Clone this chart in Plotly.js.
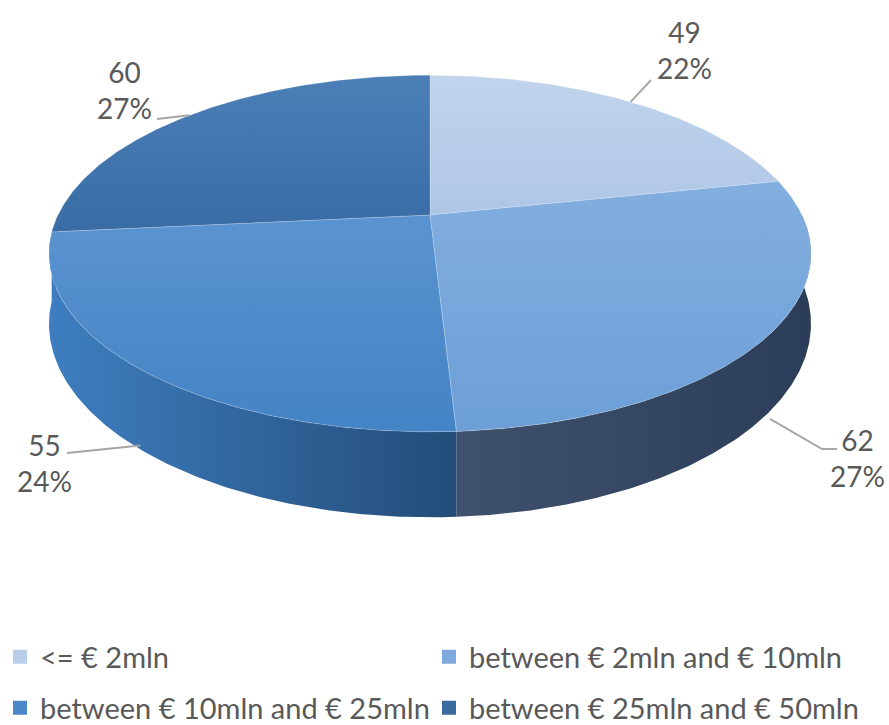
<!DOCTYPE html>
<html><head><meta charset="utf-8">
<script src="https://cdn.plot.ly/plotly-3.0.1.min.js"></script>
<style>html,body{margin:0;padding:0;background:#fff}#chart{width:889px;height:725px}</style>
</head><body><div id="chart"></div>
<script>
// ---- data ----
const categories = ['<= € 2mln', 'between € 2mln and € 10mln', 'between € 10mln and € 25mln', 'between € 25mln and € 50mln'];
const counts = [49, 62, 55, 60];
// ---- styles ----
const topColors = [['#aec6e6', '#c2d4ec'], ['#6c9fd7', '#82aedf'], ['#4483c5', '#5a93d0'], ['#396ba5', '#4c7fb6']];
const sideColors = [['#2f4361', '#2c3e58'], ['#3f516d', '#2b3d58'], ['#3e7ec0', '#234c78'], ['#3f80c1', '#3b78b8']];
const legendColors = ['#b9cfe9', '#7eaadd', '#4a86c8', '#3a69a0'];

// projection of the tilted disc (pixel space)
const G = {cx: 430, cy: 215, A: 372, B: 170, k: 0.216, H: 67};
function proj(th, drop) {
  const u = Math.sin(th), v = Math.cos(th), w = 1 + G.k * v;
  return [G.cx + G.A * u / w, G.cy - G.B * v / w + drop * G.H / w];
}
function arc(a, b, drop) {
  const n = Math.max(2, Math.ceil(Math.abs(b - a) / 0.01));
  const xs = [], ys = [];
  for (let i = 0; i <= n; i++) { const p = proj(a + (b - a) * i / n, drop); xs.push(p[0]); ys.push(p[1]); }
  return [xs, ys];
}

const total = counts.reduce((s, v) => s + v, 0);
const bounds = [];
let acc = 0;
counts.forEach(v => { const a = acc / total * 2 * Math.PI; acc += v; bounds.push([a, acc / total * 2 * Math.PI]); });

const traces = [];
// side walls (front half only)
bounds.forEach((b, i) => {
  const a0 = Math.max(b[0], Math.PI / 2), a1 = Math.min(b[1], 3 * Math.PI / 2);
  if (a0 >= a1) return;
  const t = arc(a0, a1, 0), bt = arc(a1, a0, 1);
  traces.push({
    x: t[0].concat(bt[0]), y: t[1].concat(bt[1]), mode: 'lines', fill: 'toself',
    line: {width: 0}, hoverinfo: 'skip', showlegend: false,
    fillgradient: {type: 'horizontal', colorscale: [[0, sideColors[i][0]], [1, sideColors[i][1]]]}
  });
});
// top faces
bounds.forEach((b, i) => {
  const t = arc(b[0], b[1], 0);
  traces.push({
    x: [G.cx].concat(t[0], [G.cx]), y: [G.cy].concat(t[1], [G.cy]), mode: 'lines', fill: 'toself',
    line: {width: 0.6, color: 'rgba(255,255,255,0.35)'}, hoverinfo: 'skip', showlegend: false,
    fillgradient: {type: 'vertical', colorscale: [[0, topColors[i][0]], [1, topColors[i][1]]]}
  });
});
// legend entries
categories.forEach((c, i) => {
  traces.push({
    x: [null], y: [null], mode: 'markers', name: c, legend: i < 2 ? 'legend' : 'legend2',
    marker: {symbol: 'square', size: 14, color: legendColors[i]}, hoverinfo: 'skip'
  });
});

// data labels
const labelCfg = [
  {pos: [684, 50], drop: 0, elbow: [[651, 80]]},
  {pos: [857, 458], drop: 1.1, elbow: [[822, 449], [837, 449]]},
  {pos: [44, 463], drop: 0.95, elbow: [[67, 453]]},
  {pos: [124, 90], drop: 0, elbow: [[157, 119]]}
];
const annotations = [], shapes = [];
bounds.forEach((b, i) => {
  const pct = Math.round(counts[i] / total * 100);
  const cfg = labelCfg[i];
  annotations.push({
    x: cfg.pos[0], y: cfg.pos[1], xref: 'x', yref: 'y', showarrow: false,
    text: counts[i] + '<br>' + pct + '%', xanchor: 'center', yanchor: 'middle', align: 'center',
    font: {family: 'Lato, sans-serif', size: 28, color: '#595959'}
  });
  const mid = (b[0] + b[1]) / 2;
  const p0 = proj(mid, cfg.drop);
  const pts = [p0].concat(cfg.elbow);
  shapes.push({type: 'path', xref: 'x', yref: 'y', layer: 'above',
    path: 'M' + pts.map(p => p[0].toFixed(1) + ',' + p[1].toFixed(1)).join('L'),
    line: {color: '#a6a6a6', width: 2}});
});

const legendBase = {orientation: 'h', x: 0, xanchor: 'left', yanchor: 'middle', entrywidth: 384,
  font: {family: 'Lato, sans-serif', size: 29, color: '#595959'}, bgcolor: 'rgba(0,0,0,0)', itemclick: false};
const layout = {
  width: 889, height: 725, paper_bgcolor: '#fff', plot_bgcolor: '#fff',
  margin: {l: 0, r: 0, t: 0, b: 0, autoexpand: false},
  xaxis: {range: [0, 889], visible: false, fixedrange: true},
  yaxis: {range: [725, 0], visible: false, fixedrange: true},
  showlegend: true,
  legend: Object.assign({}, legendBase, {y: 1 - 657 / 725}),
  legend2: Object.assign({}, legendBase, {y: 1 - 708 / 725}),
  annotations: annotations, shapes: shapes
};
Plotly.newPlot('chart', traces, layout, {displayModeBar: false, staticPlot: true});
</script></body></html>
